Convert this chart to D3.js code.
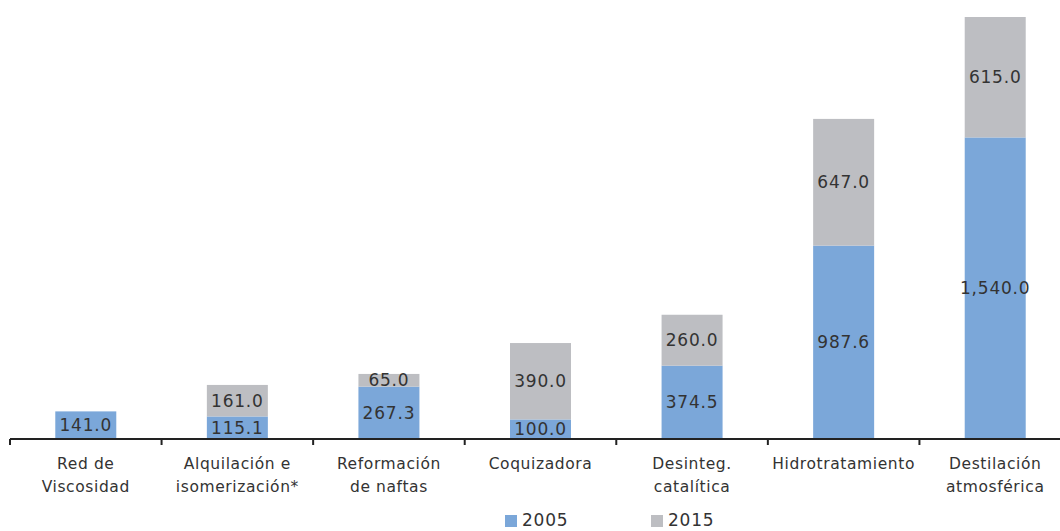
<!DOCTYPE html>
<html lang="es">
<head>
<meta charset="UTF-8">
<script src="https://d3js.org/d3.v7.min.js"></script>
<style>
  body { margin: 0; background: #fff; }
  text { font-family: "DejaVu Sans", sans-serif; fill: #333; }
</style>
</head>
<body>
<script>
// data
var categories = [
    ["Red de", "Viscosidad"],
    ["Alquilación e", "isomerización*"],
    ["Reformación", "de naftas"],
    ["Coquizadora"],
    ["Desinteg.", "catalítica"],
    ["Hidrotratamiento"],
    ["Destilación", "atmosférica"]
];
var series2005 = [141.0, 115.1, 267.3, 100.0, 374.5, 987.6, 1540.0];
var series2015 = [0, 161.0, 65.0, 390.0, 260.0, 647.0, 615.0];
var seriesNames = ["2005", "2015"];
var colors = ["#7ba7d9", "#bdbec2"];

var width = 1060, height = 531;
var baseY = 439;
var barWidth = 61;

var svg = d3.select("body").append("svg")
    .attr("width", width)
    .attr("height", height);

var x = d3.scaleBand()
    .domain(d3.range(categories.length))
    .range([10, 1071]);

var y = d3.scaleLinear()
    .domain([0, 2155])
    .range([baseY, 17]);

var rows = categories.map(function(c, i) {
    return { i: i, s2005: series2005[i], s2015: series2015[i] };
});
var stacked = d3.stack().keys(["s2005", "s2015"])(rows);

var fmt = d3.format(",.1f");

stacked.forEach(function(layer, k) {
    var g = svg.append("g");
    var segs = layer.filter(function(d) { return d[1] - d[0] > 0; });
    g.selectAll("rect")
        .data(segs)
        .enter()
        .append("rect")
        .attr("x", function(d) { return x(d.data.i) + x.bandwidth() / 2 - barWidth / 2; })
        .attr("y", function(d) { return y(d[1]); })
        .attr("width", barWidth)
        .attr("height", function(d) { return y(d[0]) - y(d[1]); })
        .attr("fill", colors[k]);
    g.selectAll("text")
        .data(segs)
        .enter()
        .append("text")
        .attr("x", function(d) { return x(d.data.i) + x.bandwidth() / 2; })
        .attr("y", function(d) { return (y(d[0]) + y(d[1])) / 2; })
        .attr("dy", "0.36em")
        .attr("text-anchor", "middle")
        .attr("font-size", "17px")
        .attr("letter-spacing", "0.8px")
        .text(function(d) { return fmt(d[1] - d[0]); });
});

// axis
var axis = svg.append("g").attr("transform", "translate(0," + baseY + ")");
axis.append("line")
    .attr("x1", 10).attr("x2", width)
    .attr("stroke", "#222").attr("stroke-width", 2);
axis.selectAll(".tick")
    .data(d3.range(categories.length + 1))
    .enter()
    .append("line")
    .attr("x1", function(i) { return x.range()[0] + i * x.step(); })
    .attr("x2", function(i) { return x.range()[0] + i * x.step(); })
    .attr("y1", 0).attr("y2", 6)
    .attr("stroke", "#222").attr("stroke-width", 2);

var labels = axis.selectAll(".cat")
    .data(categories)
    .enter()
    .append("text")
    .attr("text-anchor", "middle")
    .attr("font-size", "15.5px")
    .attr("letter-spacing", "0.6px")
    .attr("transform", function(d, i) {
        return "translate(" + (x(i) + x.bandwidth() / 2) + ",30)";
    });
labels.selectAll("tspan")
    .data(function(d) { return d; })
    .enter()
    .append("tspan")
    .attr("x", 0)
    .attr("dy", function(d, j) { return j === 0 ? 0 : 23; })
    .text(function(d) { return d; });

// legend
var legend = svg.append("g");
var legendX = [505, 651];
seriesNames.forEach(function(name, k) {
    legend.append("rect")
        .attr("x", legendX[k]).attr("y", 515)
        .attr("width", 12).attr("height", 12)
        .attr("fill", colors[k]);
    legend.append("text")
        .attr("x", legendX[k] + 17).attr("y", 526)
        .attr("font-size", "17px")
        .attr("letter-spacing", "0.8px")
        .text(name);
});
</script>
</body>
</html>
